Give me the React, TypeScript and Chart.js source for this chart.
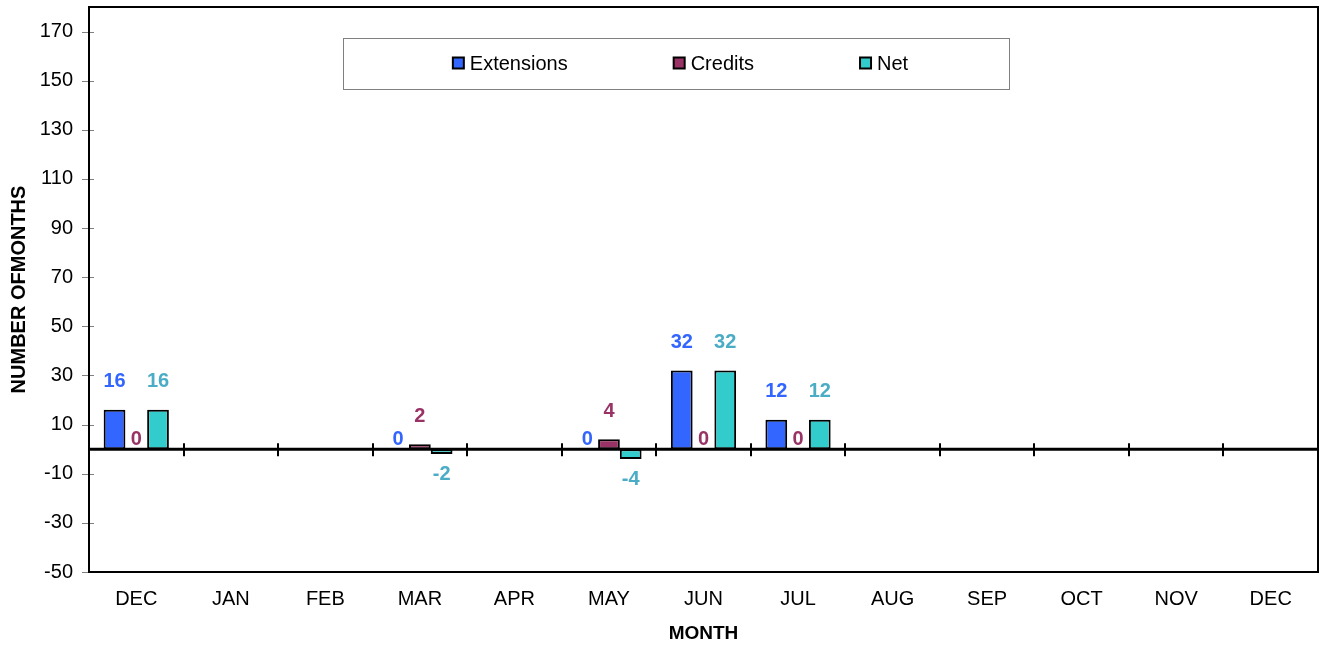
import React, { useEffect, useRef } from "react";
import { Chart, registerables } from "chart.js";

Chart.register(...registerables);

const months = ["DEC", "JAN", "FEB", "MAR", "APR", "MAY", "JUN", "JUL", "AUG", "SEP", "OCT", "NOV", "DEC"];
const extensions = [16, null, null, 0, null, 0, 32, 12, null, null, null, null, null];
const credits = [0, null, null, 2, null, 4, 0, 0, null, null, null, null, null];
const net = [16, null, null, -2, null, -4, 32, 12, null, null, null, null, null];
const yTicks = [-50, -30, -10, 10, 30, 50, 70, 90, 110, 130, 150, 170];
const seriesNames = ["Extensions", "Credits", "Net"];
const barColors = ["#3366FF", "#993366", "#33CCCC"];
const labelColors = ["#3366FF", "#993366", "#4BACC6"];

const FONT = '"Liberation Sans", Arial, Helvetica, sans-serif';

const customPlugin = {
  id: "customDecor",
  afterDatasetsDraw(chart: any) {
    const { ctx, chartArea: a, scales } = chart;
    const x = scales.x;
    const y = scales.y;
    ctx.save();

    // y tick marks (crossing the axis)
    ctx.strokeStyle = "#808080";
    ctx.lineWidth = 1;
    for (const t of yTicks) {
      const py = Math.round(y.getPixelForValue(t)) + 0.5;
      ctx.beginPath();
      ctx.moveTo(a.left - 7, py);
      ctx.lineTo(a.left + 5, py);
      ctx.stroke();
    }

    // zero line with category separators
    const y0 = y.getPixelForValue(0);
    ctx.strokeStyle = "#000";
    ctx.lineWidth = 3;
    ctx.beginPath();
    ctx.moveTo(a.left, y0);
    ctx.lineTo(a.right, y0);
    ctx.stroke();
    ctx.lineWidth = 2;
    for (let i = 0; i < months.length - 1; i++) {
      const bx = Math.round((x.getPixelForValue(i) + x.getPixelForValue(i + 1)) / 2);
      ctx.beginPath();
      ctx.moveTo(bx, y0 - 6);
      ctx.lineTo(bx, y0 + 7);
      ctx.stroke();
    }

    // plot border
    ctx.lineWidth = 2;
    ctx.strokeStyle = "#000";
    ctx.strokeRect(a.left, a.top, a.right - a.left, a.bottom - a.top);

    // data labels
    ctx.font = `bold 20px ${FONT}`;
    ctx.textAlign = "center";
    ctx.textBaseline = "middle";
    chart.data.datasets.forEach((ds: any, di: number) => {
      const meta = chart.getDatasetMeta(di);
      ds.data.forEach((v: any, i: number) => {
        if (v === null || v === undefined) return;
        const el = meta.data[i];
        let cy;
        if (v > 0) cy = el.y - 28;
        else if (v < 0) cy = el.y + 20;
        else cy = y0 - 10;
        ctx.fillStyle = labelColors[di];
        ctx.fillText(String(v), el.x, cy);
      });
    });

    // legend box
    const bx0 = 343, by0 = 38, bw = 666, bh = 51;
    ctx.fillStyle = "#fff";
    ctx.fillRect(bx0, by0, bw, bh);
    ctx.strokeStyle = "#808080";
    ctx.lineWidth = 1;
    ctx.strokeRect(bx0 + 0.5, by0 + 0.5, bw, bh);
    ctx.font = `20px ${FONT}`;
    ctx.textAlign = "left";
    const gap = 105;
    const widths = seriesNames.map((n) => ctx.measureText(n).width);
    const total = widths.reduce((s, w) => s + w + 18, 0) + gap * (seriesNames.length - 1);
    let lx = bx0 + bw / 2 + 4 - total / 2;
    const ly = by0 + bh / 2;
    seriesNames.forEach((n, i) => {
      ctx.fillStyle = barColors[i];
      ctx.fillRect(lx + 1, ly - 6, 11, 11);
      ctx.strokeStyle = "#000";
      ctx.lineWidth = 2;
      ctx.strokeRect(lx + 1, ly - 6, 11, 11);
      ctx.fillStyle = "#000";
      ctx.fillText(n, lx + 18, ly + 1);
      lx += 18 + widths[i] + gap;
    });

    ctx.restore();
  },
};

export default function App() {
  const ref = useRef<HTMLCanvasElement>(null);
  useEffect(() => {
    document.body.style.margin = "0";
    const seriesData = [extensions, credits, net];
    const chart = new Chart(ref.current as HTMLCanvasElement, {
      type: "bar",
      data: {
        labels: months,
        datasets: seriesNames.map((n, i) => ({
          label: n,
          data: seriesData[i],
          backgroundColor: barColors[i],
          borderColor: "#000",
          borderWidth: 2,
          borderSkipped: false,
          categoryPercentage: 0.69,
          barPercentage: 1,
        })),
      },
      options: {
        animation: false,
        responsive: true,
        maintainAspectRatio: false,
        layout: { padding: { left: 0, top: 7, right: 2, bottom: 0 } },
        plugins: { legend: { display: false }, tooltip: { enabled: false } },
        font: { family: FONT },
        scales: {
          x: {
            grid: { display: false, drawTicks: false },
            border: { display: false },
            ticks: { color: "#000", font: { size: 20, family: FONT }, padding: 15, maxRotation: 0, autoSkip: false },
            title: { display: true, text: "MONTH", color: "#000", font: { size: 19, weight: "bold", family: FONT }, padding: { top: 0, bottom: 0 } },
            afterFit: (s: any) => { s.height = 73; s.paddingLeft = 0; s.paddingRight = 0; },
          },
          y: {
            min: -50,
            max: 180,
            afterBuildTicks: (s: any) => { s.ticks = yTicks.map((v) => ({ value: v })); },
            grid: { display: false, drawTicks: false },
            border: { display: false },
            ticks: { color: "#000", font: { size: 20, family: FONT }, padding: 16 },
            title: { display: true, text: "NUMBER OFMONTHS", color: "#000", font: { size: 20, weight: "bold", family: FONT }, padding: { top: 7, bottom: 0 } },
            afterFit: (s: any) => { s.width = 89; s.paddingTop = 0; s.paddingBottom = 0; },
          },
        },
      } as any,
      plugins: [customPlugin],
    });
    return () => chart.destroy();
  }, []);
  return (
    <div style={{ position: "absolute", left: 0, top: 0, width: 1320, height: 645 }}>
      <canvas ref={ref} />
    </div>
  );
}
